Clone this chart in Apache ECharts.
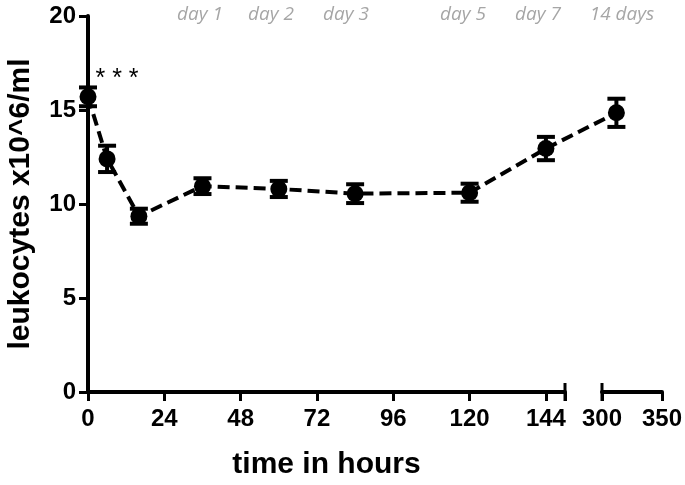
<!DOCTYPE html>
<html>
<head>
<meta charset="utf-8">
<script src="https://cdn.jsdelivr.net/npm/echarts@6/dist/echarts.min.js"></script>
<style>
  html, body { margin: 0; padding: 0; background: #fff; }
  #main { width: 685px; height: 485px; }
</style>
</head>
<body>
<div id="main"></div>
<script>
// early time points (hours) and leukocyte counts, mean +- sem
var hours = [0, 6, 16, 36, 60, 84, 120, 144]
var means = [15.7, 12.4, 9.35, 10.95, 10.8, 10.55, 10.6, 12.95]
var sems = [0.5, 0.7, 0.4, 0.42, 0.43, 0.5, 0.48, 0.62]

// late time point, drawn on the second piece of the broken axis
var lateHours = [312]
var lateMeans = [14.85]
var lateSems = [0.75]

var yTicks = [0, 5, 10, 15, 20]
var earlyTicks = [0, 24, 48, 72, 96, 120, 144]
var lateTicks = [300, 350]
var dayLabels = ['day 1', 'day 2', 'day 3', 'day 5', 'day 7', '14 days']
var dayLabelX = [200, 271, 346, 463, 538, 622] // where the grey labels sit

function errRows(xs, m, s) {
  return xs.map(function(x, i) { return [x, m[i] - s[i], m[i] + s[i]] })
}

function renderErr(params, api) {
  var top = api.coord([api.value(0), api.value(2)])
  var bot = api.coord([api.value(0), api.value(1)])
  var w = 9
  var style = { stroke: '#000', lineWidth: 4 }
  return {
    type: 'group',
    children: [
      { type: 'line', shape: { x1: top[0], y1: top[1], x2: bot[0], y2: bot[1] }, style: style },
      { type: 'line', shape: { x1: top[0] - w, y1: top[1], x2: top[0] + w, y2: top[1] }, style: style },
      { type: 'line', shape: { x1: bot[0] - w, y1: bot[1], x2: bot[0] + w, y2: bot[1] }, style: style }
    ]
  }
}

var axisFont = { color: '#000', fontFamily: 'Liberation Sans', fontWeight: 'bold', fontSize: 24 }
var axisLine = { show: true, lineStyle: { color: '#000', width: 4 } }
var axisTick = { show: true, length: 9, lineStyle: { color: '#000', width: 3 } }

var option = {
  animation: false,
  backgroundColor: '#fff',
  grid: [
    { left: 88, top: 16, width: 477, bottom: 93, containLabel: false, outerBoundsMode: 'none' },
    { left: 602, top: 16, width: 60, bottom: 93, containLabel: false, outerBoundsMode: 'none' }
  ],
  xAxis: [
    {
      gridIndex: 0,
      type: 'value',
      min: 0,
      max: 150,
      interval: 24,
      name: 'time in hours',
      nameLocation: 'middle',
      nameGap: 58,
      nameTextStyle: { color: '#000', fontFamily: 'Liberation Sans', fontWeight: 'bold', fontSize: 30 },
      axisLine: axisLine,
      axisTick: axisTick,
      splitLine: { show: false },
      axisLabel: Object.assign({
        margin: 15,
        formatter: function(v) { return earlyTicks.indexOf(v) >= 0 ? String(v) : '' }
      }, axisFont)
    },
    {
      gridIndex: 1,
      type: 'value',
      min: 300,
      max: 350,
      interval: 50,
      axisLine: axisLine,
      axisTick: axisTick,
      splitLine: { show: false },
      axisLabel: Object.assign({
        margin: 15,
        formatter: function(v) { return lateTicks.indexOf(v) >= 0 ? String(v) : '' }
      }, axisFont)
    }
  ],
  yAxis: [
    {
      gridIndex: 0,
      type: 'value',
      min: 0,
      max: 20,
      interval: 5,
      name: 'leukocytes x10^6/ml',
      nameLocation: 'middle',
      nameGap: 52,
      nameTextStyle: { color: '#000', fontFamily: 'Liberation Sans', fontWeight: 'bold', fontSize: 30 },
      axisLine: axisLine,
      axisTick: axisTick,
      splitLine: { show: false },
      axisLabel: Object.assign({
        margin: 12,
        formatter: function(v) { return yTicks.indexOf(v) >= 0 ? String(v) : '' }
      }, axisFont)
    },
    {
      gridIndex: 1,
      type: 'value',
      min: 0,
      max: 20,
      show: false
    }
  ],
  series: [
    {
      type: 'custom',
      xAxisIndex: 0,
      yAxisIndex: 0,
      renderItem: renderErr,
      encode: { x: 0, y: [1, 2] },
      data: errRows(hours, means, sems),
      z: 3
    },
    {
      type: 'custom',
      xAxisIndex: 1,
      yAxisIndex: 1,
      renderItem: renderErr,
      encode: { x: 0, y: [1, 2] },
      data: errRows(lateHours, lateMeans, lateSems),
      z: 3
    },
    {
      type: 'line',
      xAxisIndex: 0,
      yAxisIndex: 0,
      symbol: 'circle',
      symbolSize: 17,
      itemStyle: { color: '#000' },
      lineStyle: { color: '#000', width: 4, type: [12, 6] },
      data: hours.map(function(h, i) { return [h, means[i]] }),
      z: 4
    },
    {
      type: 'line',
      xAxisIndex: 1,
      yAxisIndex: 1,
      symbol: 'circle',
      symbolSize: 17,
      itemStyle: { color: '#000' },
      data: lateHours.map(function(h, i) { return [h, lateMeans[i]] }),
      z: 4
    }
  ],
  graphic: dayLabels.map(function(t, i) {
    return {
      type: 'text',
      id: 'day' + i,
      x: dayLabelX[i],
      y: 15,
      style: {
        text: t,
        fill: '#a6a6a6',
        font: 'italic 19px "Open Sans"',
        textAlign: 'center',
        textVerticalAlign: 'middle'
      }
    }
  }).concat([{
    type: 'text',
    id: 'stars',
    x: 117,
    y: 79,
    style: {
      text: '* * *',
      fill: '#000',
      font: '25px "Liberation Sans"',
      textAlign: 'center',
      textVerticalAlign: 'middle'
    }
  }])
}

var chart = echarts.init(document.getElementById('main'))
chart.setOption(option)

// dashed link across the axis break + the end caps of both axis pieces
var last = hours.length - 1
var p1 = chart.convertToPixel({ gridIndex: 0 }, [hours[last], means[last]])
var p2 = chart.convertToPixel({ gridIndex: 1 }, [lateHours[0], lateMeans[0]])
var capA = chart.convertToPixel({ gridIndex: 0 }, [150, 0])
var capB = chart.convertToPixel({ gridIndex: 1 }, [300, 0])
var capStyle = { stroke: '#000', lineWidth: 3 }
chart.setOption({
  graphic: [
    {
      type: 'line', id: 'link', z: 2,
      shape: { x1: p1[0], y1: p1[1], x2: p2[0], y2: p2[1] },
      style: { stroke: '#000', lineWidth: 4, lineDash: [12, 6] }
    },
    {
      type: 'line', id: 'capA',
      shape: { x1: capA[0], y1: capA[1] - 9, x2: capA[0], y2: capA[1] + 9 },
      style: capStyle
    },
    {
      type: 'line', id: 'capB',
      shape: { x1: capB[0], y1: capB[1] - 9, x2: capB[0], y2: capB[1] + 9 },
      style: capStyle
    }
  ]
})
</script>
</body>
</html>
